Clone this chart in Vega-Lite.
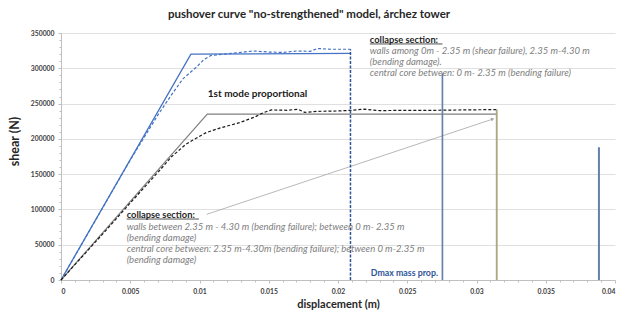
{
  "$schema": "https://vega.github.io/schema/vega-lite/v6.json",
  "width": 554,
  "height": 247,
  "autosize": {"type": "none"},
  "padding": {"left": 61, "top": 33, "right": 3, "bottom": 32},
  "background": "white",
  "title": {"text": "pushover curve \"no-strengthened\" model, árchez tower", "font": "Lato", "fontSize": 11.5, "fontWeight": "bold", "color": "#262626", "dx": -29, "offset": 10, "anchor": "middle"},
  "config": {
    "view": {"stroke": null},
    "axis": {"labelFont": "Lato", "titleFont": "Lato", "labelColor": "#404040", "titleColor": "#262626", "domainColor": "#bfbfbf", "tickColor": "#bfbfbf", "gridColor": "#e0e0e0"}
  },
  "datasets": {
    "curves": [
      {"s": "blue_bl", "x": 0, "y": 0},
      {"s": "blue_bl", "x": 0.00938, "y": 320000},
      {"s": "blue_bl", "x": 0.0209, "y": 321000},
      {"s": "blue_dash", "x": 0, "y": 0},
      {"s": "blue_dash", "x": 0.005, "y": 170000},
      {"s": "blue_dash", "x": 0.007, "y": 234000},
      {"s": "blue_dash", "x": 0.008, "y": 263000},
      {"s": "blue_dash", "x": 0.0088, "y": 285000},
      {"s": "blue_dash", "x": 0.0098, "y": 302000},
      {"s": "blue_dash", "x": 0.0103, "y": 312000},
      {"s": "blue_dash", "x": 0.0108, "y": 318000},
      {"s": "blue_dash", "x": 0.012, "y": 320500},
      {"s": "blue_dash", "x": 0.0139, "y": 324500},
      {"s": "blue_dash", "x": 0.015, "y": 323000},
      {"s": "blue_dash", "x": 0.016, "y": 322500},
      {"s": "blue_dash", "x": 0.017, "y": 324500},
      {"s": "blue_dash", "x": 0.018, "y": 324000},
      {"s": "blue_dash", "x": 0.0185, "y": 328000},
      {"s": "blue_dash", "x": 0.0195, "y": 327000},
      {"s": "blue_dash", "x": 0.0209, "y": 327000},
      {"s": "gray_bl", "x": 0, "y": 0},
      {"s": "gray_bl", "x": 0.01056, "y": 235000},
      {"s": "gray_bl", "x": 0.0315, "y": 235000},
      {"s": "black_dash", "x": 0, "y": 0},
      {"s": "black_dash", "x": 0.003, "y": 65000},
      {"s": "black_dash", "x": 0.006, "y": 131000},
      {"s": "black_dash", "x": 0.0072, "y": 157000},
      {"s": "black_dash", "x": 0.008, "y": 175000},
      {"s": "black_dash", "x": 0.009, "y": 192000},
      {"s": "black_dash", "x": 0.0095, "y": 198000},
      {"s": "black_dash", "x": 0.0105, "y": 209000},
      {"s": "black_dash", "x": 0.0115, "y": 215500},
      {"s": "black_dash", "x": 0.0129, "y": 223000},
      {"s": "black_dash", "x": 0.014, "y": 231000},
      {"s": "black_dash", "x": 0.0146, "y": 237000},
      {"s": "black_dash", "x": 0.0152, "y": 241000},
      {"s": "black_dash", "x": 0.0163, "y": 240500},
      {"s": "black_dash", "x": 0.0171, "y": 242000},
      {"s": "black_dash", "x": 0.0176, "y": 237500},
      {"s": "black_dash", "x": 0.0185, "y": 239000},
      {"s": "black_dash", "x": 0.02, "y": 239500},
      {"s": "black_dash", "x": 0.021, "y": 240500},
      {"s": "black_dash", "x": 0.0219, "y": 242000},
      {"s": "black_dash", "x": 0.023, "y": 240000},
      {"s": "black_dash", "x": 0.025, "y": 240500},
      {"s": "black_dash", "x": 0.027, "y": 240500},
      {"s": "black_dash", "x": 0.029, "y": 241000},
      {"s": "black_dash", "x": 0.0315, "y": 241500},
      {"s": "arrow", "x": 0.01051, "y": 93000},
      {"s": "arrow", "x": 0.03117, "y": 228000}
    ],
    "verticals": [
      {"s": "dmax_mass", "x": 0.0209, "y": 0, "y2": 327000},
      {"s": "limit_blue", "x": 0.02754, "y": 0, "y2": 293000},
      {"s": "limit_tan", "x": 0.03146, "y": 0, "y2": 241500},
      {"s": "limit_blue2", "x": 0.03884, "y": 0, "y2": 188000}
    ],
    "underlines": [
      {"x": 0.0223, "x2": 0.02754, "y": 334500},
      {"x": 0.00474, "x2": 0.00996, "y": 86400}
    ],
    "labels": [
      {"k": "head", "x": 0.0223, "y": 339500, "text": "collapse section:"},
      {"k": "note", "x": 0.0223, "y": 324500, "text": "walls among 0m - 2.35 m (shear failure), 2.35 m-4.30 m"},
      {"k": "note", "x": 0.0223, "y": 308900, "text": "(bending damage)."},
      {"k": "note", "x": 0.0223, "y": 293300, "text": "central core between: 0 m- 2.35 m (bending failure)"},
      {"k": "head", "x": 0.00474, "y": 91500, "text": "collapse section:"},
      {"k": "note", "x": 0.00474, "y": 75100, "text": "walls between 2.35 m - 4.30 m (bending failure); between  0 m- 2.35 m"},
      {"k": "note", "x": 0.00474, "y": 59500, "text": "(bending damage)"},
      {"k": "note", "x": 0.00474, "y": 43900, "text": "central core between: 2.35 m-4.30m  (bending failure); between  0 m-2.35 m"},
      {"k": "note", "x": 0.00474, "y": 28300, "text": "(bending damage)"},
      {"k": "mode", "x": 0.0106, "y": 263600, "text": "1st mode proportional"},
      {"k": "dmax", "x": 0.02237, "y": 10300, "text": "Dmax mass prop."}
    ]
  },
  "resolve": {"axis": {"x": "independent", "y": "independent"}},
  "layer": [
    {
      "data": {"name": "curves"},
      "transform": [{"filter": "datum.s == 'blue_bl'"}],
      "mark": {"type": "line", "color": "#4472C4", "strokeWidth": 1.3},
      "encoding": {
        "x": {"field": "x", "type": "quantitative", "scale": {"domain": [0, 0.04], "nice": false, "zero": false},
          "axis": {"orient": "bottom", "values": [0, 0.005, 0.01, 0.015, 0.02, 0.025, 0.03, 0.035, 0.04], "format": "~g", "grid": false, "tickSize": 3, "labelPadding": 5, "labelFontSize": 6.8, "labelFontWeight": "bold", "title": "displacement (m)", "titleFontSize": 11, "titleFontWeight": "bold", "titlePadding": 4}},
        "y": {"field": "y", "type": "quantitative", "scale": {"domain": [0, 350000], "nice": false},
          "axis": {"orient": "left", "values": [0, 50000, 100000, 150000, 200000, 250000, 300000, 350000], "format": "d", "grid": true, "tickSize": 3, "labelPadding": 4, "labelFontSize": 6.8, "labelFontWeight": "bold", "title": "shear (N)", "titleFontSize": 12.5, "titleFontWeight": "bold", "titlePadding": 9, "titleY": 108}}
      }
    },
    {
      "data": {"name": "curves"},
      "transform": [{"filter": "datum.s == 'blue_dash'"}],
      "mark": {"type": "line", "color": "#4472C4", "strokeWidth": 1.2, "strokeDash": [3, 2]},
      "encoding": {
        "x": {"field": "x", "type": "quantitative",
          "axis": {"orient": "bottom", "values": [0.001, 0.002, 0.003, 0.004, 0.006, 0.007, 0.008, 0.009, 0.011, 0.012, 0.013, 0.014, 0.016, 0.017, 0.018, 0.019, 0.021, 0.022, 0.023, 0.024, 0.026, 0.027, 0.028, 0.029, 0.031, 0.032, 0.033, 0.034, 0.036, 0.037, 0.038, 0.039], "labels": false, "grid": false, "domain": false, "tickSize": 2, "title": null}},
        "y": {"field": "y", "type": "quantitative",
          "axis": {"orient": "left", "values": [10000, 20000, 30000, 40000, 60000, 70000, 80000, 90000, 110000, 120000, 130000, 140000, 160000, 170000, 180000, 190000, 210000, 220000, 230000, 240000, 260000, 270000, 280000, 290000, 310000, 320000, 330000, 340000], "labels": false, "grid": false, "domain": false, "tickSize": 2, "title": null}}
      }
    },
    {
      "data": {"name": "curves"},
      "transform": [{"filter": "datum.s == 'gray_bl'"}],
      "mark": {"type": "line", "color": "#808080", "strokeWidth": 1.2},
      "encoding": {
        "x": {"field": "x", "type": "quantitative", "axis": null},
        "y": {"field": "y", "type": "quantitative", "axis": null}
      }
    },
    {
      "data": {"name": "curves"},
      "transform": [{"filter": "datum.s == 'black_dash'"}],
      "mark": {"type": "line", "color": "#1a1a1a", "strokeWidth": 1.2, "strokeDash": [3, 2]},
      "encoding": {
        "x": {"field": "x", "type": "quantitative", "axis": null},
        "y": {"field": "y", "type": "quantitative", "axis": null}
      }
    },
    {
      "data": {"name": "curves"},
      "transform": [{"filter": "datum.s == 'arrow'"}],
      "mark": {"type": "line", "color": "#a6a6a6", "strokeWidth": 0.8},
      "encoding": {
        "x": {"field": "x", "type": "quantitative", "axis": null},
        "y": {"field": "y", "type": "quantitative", "axis": null}
      }
    },
    {
      "data": {"name": "curves"},
      "transform": [{"filter": "datum.s == 'arrow' && datum.x > 0.02"}],
      "mark": {"type": "point", "shape": "triangle-up", "filled": true, "color": "#a6a6a6", "size": 14, "angle": 71.6, "opacity": 1},
      "encoding": {
        "x": {"field": "x", "type": "quantitative", "axis": null},
        "y": {"field": "y", "type": "quantitative", "axis": null}
      }
    },
    {
      "data": {"name": "verticals"},
      "mark": {"type": "rule"},
      "encoding": {
        "x": {"field": "x", "type": "quantitative", "axis": null},
        "y": {"field": "y", "type": "quantitative", "axis": null},
        "y2": {"field": "y2"},
        "color": {"field": "s", "type": "nominal", "legend": null, "scale": {"domain": ["dmax_mass", "limit_blue", "limit_tan", "limit_blue2"], "range": ["#2F5597", "#6580AD", "#B0A67E", "#6580AD"]}},
        "strokeWidth": {"field": "s", "type": "nominal", "legend": null, "scale": {"domain": ["dmax_mass", "limit_blue", "limit_tan", "limit_blue2"], "range": [1.5, 2, 2, 2]}},
        "strokeDash": {"field": "s", "type": "nominal", "legend": null, "scale": {"domain": ["dmax_mass", "limit_blue", "limit_tan", "limit_blue2"], "range": [[3, 1.5], [1, 0], [1, 0], [1, 0]]}}
      }
    },
    {
      "data": {"name": "underlines"},
      "mark": {"type": "rule", "color": "#262626", "strokeWidth": 0.8},
      "encoding": {
        "x": {"field": "x", "type": "quantitative", "axis": null},
        "x2": {"field": "x2"},
        "y": {"field": "y", "type": "quantitative", "axis": null}
      }
    },
    {
      "data": {"name": "labels"},
      "transform": [{"filter": "datum.k == 'head'"}],
      "mark": {"type": "text", "align": "left", "baseline": "middle", "font": "Lato", "fontSize": 9.3, "fontWeight": "bold", "color": "#262626"},
      "encoding": {
        "x": {"field": "x", "type": "quantitative", "axis": null},
        "y": {"field": "y", "type": "quantitative", "axis": null},
        "text": {"field": "text"}
      }
    },
    {
      "data": {"name": "labels"},
      "transform": [{"filter": "datum.k == 'note'"}],
      "mark": {"type": "text", "align": "left", "baseline": "middle", "font": "Lato", "fontSize": 9.5, "fontStyle": "italic", "color": "#808080"},
      "encoding": {
        "x": {"field": "x", "type": "quantitative", "axis": null},
        "y": {"field": "y", "type": "quantitative", "axis": null},
        "text": {"field": "text"}
      }
    },
    {
      "data": {"name": "labels"},
      "transform": [{"filter": "datum.k == 'mode'"}],
      "mark": {"type": "text", "align": "left", "baseline": "middle", "font": "Lato", "fontSize": 10, "fontWeight": "bold", "color": "#1a1a1a"},
      "encoding": {
        "x": {"field": "x", "type": "quantitative", "axis": null},
        "y": {"field": "y", "type": "quantitative", "axis": null},
        "text": {"field": "text"}
      }
    },
    {
      "data": {"name": "labels"},
      "transform": [{"filter": "datum.k == 'dmax'"}],
      "mark": {"type": "text", "align": "left", "baseline": "middle", "font": "Lato", "fontSize": 8.8, "fontWeight": "bold", "color": "#2F5597"},
      "encoding": {
        "x": {"field": "x", "type": "quantitative", "axis": null},
        "y": {"field": "y", "type": "quantitative", "axis": null},
        "text": {"field": "text"}
      }
    }
  ]
}
